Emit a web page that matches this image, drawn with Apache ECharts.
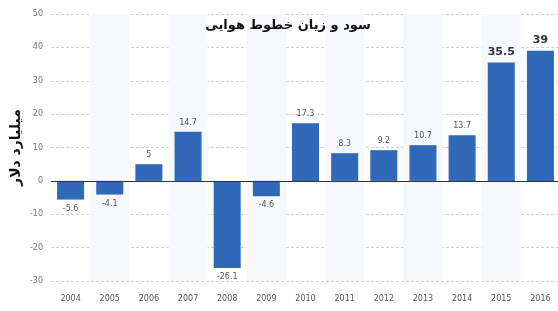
<!DOCTYPE html>
<html><head><meta charset="utf-8">
<script src="https://cdn.jsdelivr.net/npm/echarts@6/dist/echarts.min.js"></script>
<style>html,body{margin:0;padding:0;background:#fff}#c{width:558px;height:311px}</style>
</head><body><div id="c"></div>
<script>
const years = ['2004','2005','2006','2007','2008','2009','2010','2011','2012','2013','2014','2015','2016'];
const profits = [-5.6, -4.1, 5, 14.7, -26.1, -4.6, 17.3, 8.3, 9.2, 10.7, 13.7, 35.5, 39];
const titleText = 'سود و زیان خطوط هوایی';
const yName = 'میلیارد دلار';
const big = {2015: true, 2016: true};

const chart = echarts.init(document.getElementById('c'));
chart.setOption({
  animation: false,
  backgroundColor: '#fff',
  title: {
    text: titleText, left: 283, top: 14, textAlign: 'center',
    textStyle: {fontFamily: 'DejaVu Sans', fontWeight: 'bold', fontSize: 13, color: '#111'}
  },
  grid: {left: 51, right: -2, top: 14, bottom: 30, containLabel: false, outerBoundsMode: 'none'},
  xAxis: {
    type: 'category', data: years,
    axisLine: {show: false}, axisTick: {show: false},
    axisLabel: {color: '#555', fontSize: 8, margin: 14, fontFamily: 'DejaVu Sans'},
    splitArea: {show: true, areaStyle: {color: ['rgba(255,255,255,0)', '#f6f8fb']}},
    z: 1
  },
  yAxis: {
    type: 'value', min: -30, max: 50, interval: 10,
    name: yName, nameLocation: 'middle', nameGap: 28, nameRotate: 90, nameMoveOverlap: false,
    nameTextStyle: {fontFamily: 'DejaVu Sans', fontWeight: 'bold', fontSize: 14, color: '#111'},
    axisLine: {show: false}, axisTick: {show: false},
    axisLabel: {color: '#777', fontSize: 8, margin: 8, fontFamily: 'DejaVu Sans'},
    splitLine: {lineStyle: {color: '#d0d0d0', type: [3, 2], width: 1}}
  },
  series: [{
    type: 'bar', barWidth: 27,
    data: profits.map((v, i) => ({
      value: v,
      label: big[years[i]] ? {fontSize: 11, fontWeight: 'bold', color: '#333'} : undefined
    })),
    itemStyle: {color: '#2f69b8'},
    label: {show: true, position: 'outside', fontSize: 8, color: '#555', distance: 5, fontFamily: 'DejaVu Sans'},
    markLine: {
      silent: true, symbol: 'none', label: {show: false},
      lineStyle: {color: '#333', type: 'solid', width: 1},
      data: [{yAxis: 0}]
    }
  }]
});
</script></body></html>
